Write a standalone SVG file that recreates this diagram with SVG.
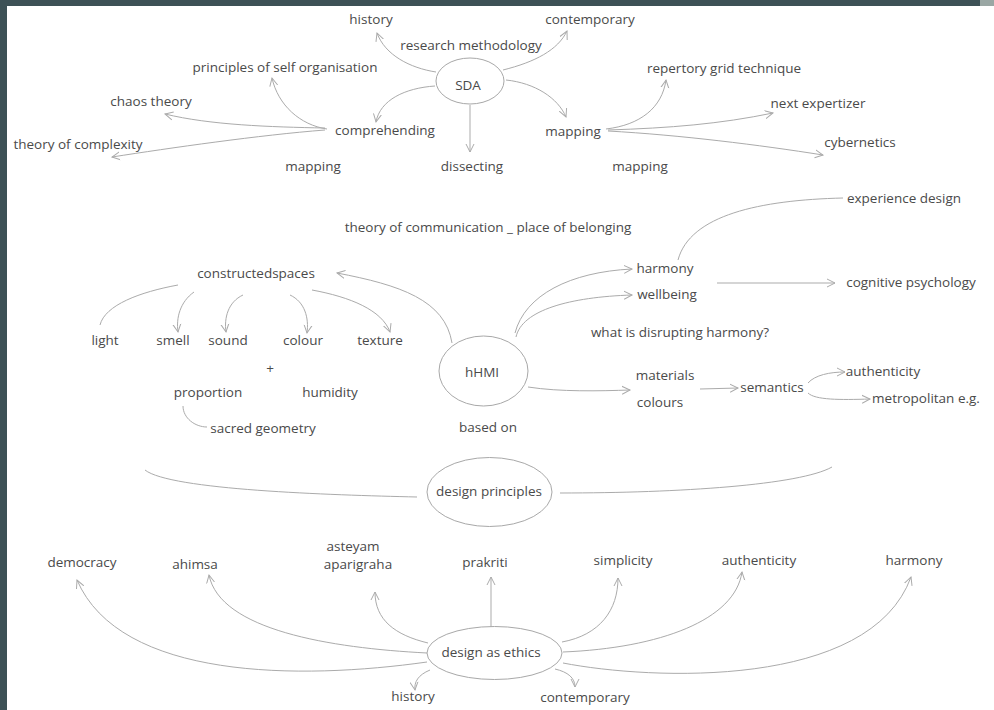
<svg xmlns="http://www.w3.org/2000/svg" width="994" height="710" viewBox="0 0 994 710">
<style>
text{font-family:"Open Sans","Noto Sans","Liberation Sans",sans-serif;font-size:13.5px;fill:#4a4a4a;text-anchor:middle}
.c path{fill:none;stroke:#ababab;stroke-width:1}
.e{fill:none;stroke:#a8a8a8;stroke-width:1}
.a{marker-end:url(#ah)}
</style>
<defs>
<marker id="ah" markerUnits="userSpaceOnUse" markerWidth="10" markerHeight="10" refX="8" refY="4" orient="auto" viewBox="0 0 10 8">
<path d="M0,0 L8,4 L0,8" fill="none" stroke="#ababab" stroke-width="1"/>
</marker>
</defs>
<rect width="994" height="710" fill="#ffffff"/>
<rect x="0" y="0" width="980" height="6" fill="#3d5156"/>
<rect x="980" y="0" width="14" height="6" fill="#9aa7a4"/>
<rect x="0" y="0" width="7" height="710" fill="#3d5156"/>

<g class="c" id="connectors">
<path class="a" d="M436,72 C410,68 385,55 377,33"/>
<path class="a" d="M503,70 C535,62 558,50 567,31"/>
<path class="a" d="M435,86 C405,88 380,100 376,122"/>
<path class="a" d="M470,105 L470,152"/>
<path class="a" d="M506,80 C535,83 558,98 566,117"/>
<path class="a" d="M327,129 C300,125 278,105 272,78"/>
<path class="a" d="M325,128 C270,127 210,125 165,114"/>
<path class="a" d="M325,130 C260,135 170,148 112,157"/>
<path class="a" d="M606,129 C640,125 662,108 666,80"/>
<path class="a" d="M608,130 C670,128 720,124 773,113"/>
<path class="a" d="M608,131 C680,135 760,145 823,155"/>
<path class="a" d="M452,343 C445,300 400,285 337,273"/>
<path d="M178,285 C140,292 105,305 100,325"/>
<path class="a" d="M194,292 C180,302 176,318 178,332"/>
<path class="a" d="M243,295 C228,302 224,318 226,332"/>
<path class="a" d="M290,295 C305,302 309,318 307,333"/>
<path class="a" d="M312,290 C350,297 382,310 390,332"/>
<path d="M183,406 C183,418 195,427 207,427"/>
<path class="a" d="M515,333 C525,295 570,272 632,269"/>
<path class="a" d="M516,337 C522,310 570,297 632,295"/>
<path d="M678,260 C690,215 760,200 843,198"/>
<path class="a" d="M717,283 L835,283"/>
<path class="a" d="M528,387 C560,392 600,391 630,390"/>
<path class="a" d="M700,389 L738,388"/>
<path class="a" d="M808,383 C815,375 830,372 845,372"/>
<path class="a" d="M808,393 C815,400 840,400 870,399"/>
<path d="M417,497 C330,495 170,490 145,470"/>
<path d="M560,493 C680,493 800,485 832,467"/>
<path class="a" d="M427,662 C300,680 120,680 77,580"/>
<path class="a" d="M427,653 C330,648 220,630 209,575"/>
<path class="a" d="M428,643 C395,635 375,620 375,592"/>
<path class="a" d="M491,627 L491,577"/>
<path class="a" d="M430,670 C418,675 414,682 415,690"/>
<path class="a" d="M562,642 C600,635 618,610 618,578"/>
<path class="a" d="M563,652 C660,648 735,620 742,572"/>
<path class="a" d="M563,663 C650,680 870,690 911,577"/>
<path class="a" d="M555,669 C568,672 575,678 575,687"/>
</g>

<g id="n-sda"><ellipse class="e" cx="470" cy="81" rx="34" ry="23"/><text x="468" y="90">SDA</text></g>
<g id="n-history1"><text x="371" y="24">history</text></g>
<g id="n-contemporary1"><text x="590" y="24">contemporary</text></g>
<g id="n-research"><text x="471" y="50">research methodology</text></g>
<g id="n-principles"><text x="285" y="72">principles of self organisation</text></g>
<g id="n-chaos"><text x="151" y="106">chaos theory</text></g>
<g id="n-comprehending"><text x="385" y="135">comprehending</text></g>
<g id="n-complexity"><text x="78" y="149">theory of complexity</text></g>
<g id="n-mapping1"><text x="313" y="171">mapping</text></g>
<g id="n-dissecting"><text x="472" y="171">dissecting</text></g>
<g id="n-mapping2"><text x="573" y="136">mapping</text></g>
<g id="n-mapping3"><text x="640" y="171">mapping</text></g>
<g id="n-repertory"><text x="724" y="73">repertory grid technique</text></g>
<g id="n-expertizer"><text x="818" y="108">next expertizer</text></g>
<g id="n-cybernetics"><text x="860" y="147">cybernetics</text></g>

<g id="n-communication"><text x="488" y="232">theory of communication _ place of belonging</text></g>
<g id="n-experience"><text x="904" y="203">experience design</text></g>
<g id="n-constructed"><text x="256" y="278">constructedspaces</text></g>
<g id="n-harmony1"><text x="665" y="273">harmony</text></g>
<g id="n-wellbeing"><text x="667" y="299">wellbeing</text></g>
<g id="n-cognitive"><text x="911" y="287">cognitive psychology</text></g>
<g id="n-light"><text x="105" y="345">light</text></g>
<g id="n-smell"><text x="173" y="345">smell</text></g>
<g id="n-sound"><text x="228" y="345">sound</text></g>
<g id="n-colour"><text x="303" y="345">colour</text></g>
<g id="n-texture"><text x="380" y="345">texture</text></g>
<g id="n-plus"><text x="270" y="373">+</text></g>
<g id="n-proportion"><text x="208" y="397">proportion</text></g>
<g id="n-humidity"><text x="330" y="397">humidity</text></g>
<g id="n-sacred"><text x="263" y="433">sacred geometry</text></g>
<g id="n-hhmi"><ellipse class="e" cx="483.5" cy="371" rx="44.5" ry="35"/><text x="482" y="377">hHMI</text></g>
<g id="n-basedon"><text x="488" y="432">based on</text></g>
<g id="n-disrupting"><text x="680" y="337">what is disrupting harmony?</text></g>
<g id="n-materials"><text x="665" y="380">materials</text></g>
<g id="n-colours"><text x="660" y="407">colours</text></g>
<g id="n-semantics"><text x="772" y="392">semantics</text></g>
<g id="n-authenticity1"><text x="883" y="376">authenticity</text></g>
<g id="n-metropolitan"><text x="926" y="403">metropolitan e.g.</text></g>

<g id="n-designprinciples"><ellipse class="e" cx="489.5" cy="492" rx="62.5" ry="34.5"/><text x="489" y="496">design principles</text></g>
<g id="n-democracy"><text x="82" y="567">democracy</text></g>
<g id="n-ahimsa"><text x="195" y="569">ahimsa</text></g>
<g id="n-asteyam"><text x="353" y="551">asteyam</text><text x="358" y="569">aparigraha</text></g>
<g id="n-prakriti"><text x="485" y="567">prakriti</text></g>
<g id="n-simplicity"><text x="623" y="565">simplicity</text></g>
<g id="n-authenticity2"><text x="759" y="565">authenticity</text></g>
<g id="n-harmony2"><text x="914" y="565">harmony</text></g>
<g id="n-ethics"><ellipse class="e" cx="494.5" cy="653" rx="67.5" ry="26.5"/><text x="491" y="657">design as ethics</text></g>
<g id="n-history2"><text x="413" y="701">history</text></g>
<g id="n-contemporary2"><text x="585" y="702">contemporary</text></g>
</svg>
